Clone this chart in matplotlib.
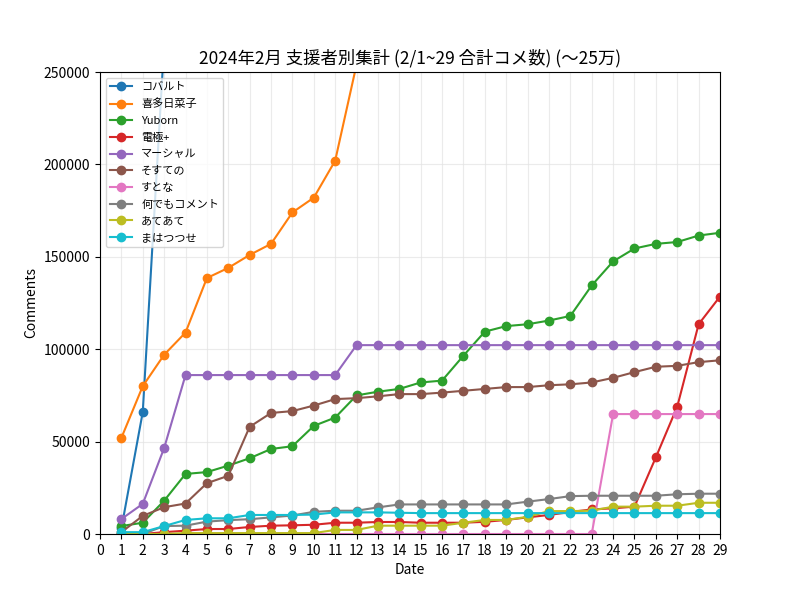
import numpy as np
import matplotlib.pyplot as plt

plt.rcParams['font.family'] = ['Noto Sans CJK JP', 'DejaVu Sans']

# 2/1 ~ 2/29 cumulative comments per supporter
days = list(range(1, 30))

names = ['コバルト', '喜多日菜子', 'Yuborn', '電極+', 'マーシャル',
         'そすての', 'すとな', '何でもコメント', 'あてあて', 'まはつつせ']

kobaruto = [3000, 66000, 265000, 300000, 330000, 360000, 390000, 420000, 450000, 480000,
            510000, 540000, 570000, 600000, 630000, 660000, 690000, 720000, 750000, 780000,
            810000, 840000, 870000, 900000, 930000, 960000, 990000, 1020000, 1050000]
kita = [52000, 80000, 97000, 109000, 138500, 144000, 151000, 157000, 174000, 182000,
        202000, 254000, 280000, 300000, 320000, 340000, 360000, 380000, 400000, 420000,
        440000, 460000, 480000, 500000, 520000, 540000, 560000, 580000, 600000]
yuborn = [4300, 6100, 18000, 32500, 33500, 37000, 41000, 46000, 47500, 58500,
          63000, 75000, 77000, 78500, 82000, 83000, 96500, 109500, 112500, 113500,
          115500, 118000, 134500, 147500, 154500, 157000, 158000, 161500, 163000]
denkyoku = [0, 0, 1000, 1800, 2700, 2700, 3800, 4500, 4700, 5000,
            6100, 6100, 6500, 6500, 6100, 6100, 6100, 6600, 7600, 9000,
            10300, 11900, 13300, 13900, 14800, 41500, 68900, 113500, 128500]
marshall = [8100, 16300, 46500, 86000, 86000, 86000, 86000, 86000, 86000, 86000,
            86000, 102200, 102200, 102200, 102200, 102200, 102200, 102200, 102200, 102200,
            102200, 102200, 102200, 102200, 102200, 102200, 102200, 102200, 102200]
sosuteno = [1000, 9800, 14500, 16500, 27500, 31500, 58000, 65500, 66500, 69500,
            73000, 73500, 74500, 75700, 75700, 76500, 77500, 78500, 79500, 79500,
            80500, 81000, 82000, 84500, 87600, 90500, 91000, 93000, 94000]
sutona = [0, 0, 0, 0, 0, 0, 0, 0, 0, 0,
          0, 0, 0, 0, 0, 0, 0, 0, 0, 0,
          0, 0, 0, 64900, 64900, 64900, 64900, 64900, 64900]
nandemo = [0, 0, 4300, 4500, 6700, 7500, 8000, 9000, 10000, 12000,
           12600, 12600, 14400, 16000, 16000, 16000, 16000, 16000, 16000, 17500,
           18900, 20500, 20700, 20700, 20700, 20700, 21500, 21800, 21800]
ateate = [0, 0, 0, 500, 500, 500, 500, 500, 500, 500,
          2200, 2200, 4500, 4500, 4500, 4500, 6100, 7600, 7600, 9300,
          12400, 12400, 12600, 14800, 14800, 15300, 15300, 16900, 16900]
mahatsutsuse = [1000, 1000, 4300, 7600, 8500, 8500, 10300, 10300, 10300, 10500,
                11700, 11700, 11700, 11500, 11300, 11300, 11300, 11300, 11300, 11300,
                11300, 11300, 11300, 11300, 11300, 11300, 11300, 11300, 11300]

series = [kobaruto, kita, yuborn, denkyoku, marshall,
          sosuteno, sutona, nandemo, ateate, mahatsutsuse]

fig = plt.figure(figsize=(8, 6), dpi=100)
for name, vals in zip(names, series):
    plt.plot(days, vals, marker='o', label=name)

plt.xlim(0, 29)
plt.ylim(0, 250000)
plt.xticks(range(0, 30))
plt.grid(True, color='#e3e3e3', linewidth=0.8, alpha=0.7)
plt.xlabel('Date')
plt.ylabel('Comments')
plt.title('2024年2月 支援者別集計 (2/1~29 合計コメ数) (〜25万)', fontsize=12.5)
plt.legend(loc='upper left', fontsize=8, labelspacing=0.6)
plt.savefig('out.png')
